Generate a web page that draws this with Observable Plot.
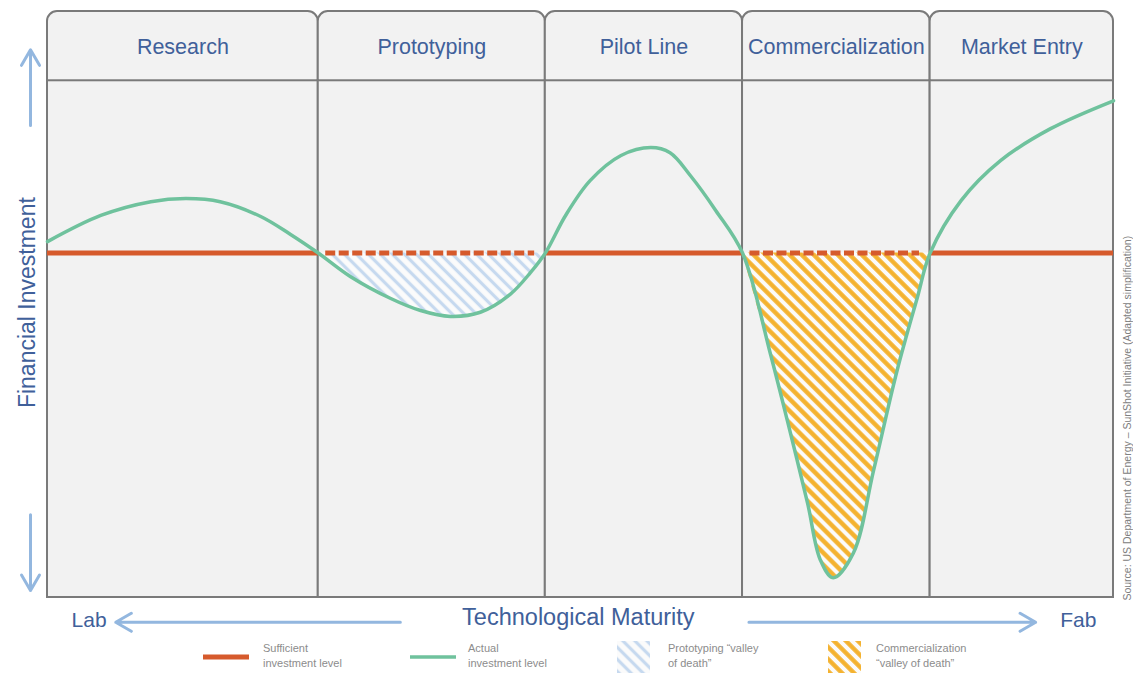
<!DOCTYPE html>
<html><head><meta charset="utf-8">
<script src="https://cdn.jsdelivr.net/npm/d3@7"></script>
<script src="https://cdn.jsdelivr.net/npm/@observablehq/plot@0.6"></script>
<style>
body{margin:0;background:#fff;font-family:"Liberation Sans",Arial,sans-serif;}
#wrap{position:relative;width:1133px;height:674px;overflow:hidden;}
#legend{position:absolute;left:0;top:638px;width:1133px;height:36px;}
.sw{position:absolute;}
.tx{position:absolute;font-size:11px;line-height:15px;color:#8c8c8c;white-space:nowrap;}
</style></head><body>
<div id="wrap"><div id="chart"></div><div id="legend"></div></div>
<script>
// ---- data ----
const stages = ["Research", "Prototyping", "Pilot Line", "Commercialization", "Market Entry"];
const stageBounds = [0, 25.4, 46.7, 65.2, 82.8, 100];
const valleyStages = ["Prototyping", "Commercialization"];
const sufficientLevel = 0;
const maturity = [0, 5.0, 9.7, 13.0, 16.2, 20.0, 22.8, 25.4, 28.4, 32.2, 35.0, 37.8, 40.6, 43.4, 45.3, 46.7,
  48.6, 50.9, 53.8, 56.6, 58.4, 60.3, 62.7, 65.2, 67.8, 69.4, 71.3, 72.5, 73.7, 75.6, 77.5, 79.7, 81.6, 82.8,
  85.7, 89.4, 94.1, 100];
const actual = [0.33, 1.09, 1.49, 1.58, 1.49, 1.06, 0.54, 0, -0.68, -1.32, -1.67, -1.84, -1.72, -1.20, -0.57, 0,
  1.09, 2.10, 2.83, 3.06, 2.91, 2.25, 1.23, 0, -2.91, -4.86, -7.26, -8.91, -9.43, -8.71, -6.30, -3.41, -1.29, 0,
  1.52, 2.68, 3.61, 4.42];
const yAxisLabel = "Financial Investment";
const xAxisLabel = "Technological Maturity";
const xAxisEnds = ["Lab", "Fab"];
const sourceNote = "Source: US Department of Energy \u2013 SunShot Initiative (Adapted simplification)";
const legendLabels = [["Sufficient", "investment level"], ["Actual", "investment level"],
  ["Prototyping \u201cvalley", "of death\u201d"], ["Commercialization", "\u201cvalley of death\u201d"]];

// ---- derived ----
const stageRows = stages.map((s, i) => ({stage: s, x1: stageBounds[i], x2: stageBounds[i + 1], valley: valleyStages.includes(s)}));
const curvePts = maturity.map((m, i) => ({m, v: actual[i]}));

const C = {red: "#d65a2c", green: "#6fc29d", border: "#7a7a7a", panel: "#f2f2f2", blueText: "#40609a",
  arrow: "#93b7df", hatchBlue: "#c6d9ef", hatchOrange: "#f4b22f"};

const headerTop = 7.04, headerBottom = 5.0, yMin = -10;
const labelRow = -10.66;

const marks = [
  Plot.rect(stageRows, {x1: "x1", x2: "x2", y1: d => headerBottom - 3, y2: d => headerTop - 0.03,
    fill: C.panel, stroke: C.border, strokeWidth: 2, rx: 10}),
  Plot.rect(stageRows, {x1: "x1", x2: "x2", y1: d => yMin, y2: d => headerBottom,
    fill: C.panel, stroke: C.border, strokeWidth: 2}),
];
stageRows.filter(d => d.valley).forEach(d => {
  const pts = curvePts.filter(p => p.m >= d.x1 && p.m <= d.x2);
  marks.push(Plot.areaY(pts, {x: "m", y1: () => sufficientLevel, y2: "v", curve: "catmull-rom",
    fill: d.stage === "Prototyping" ? "url(#hatchProto)" : "url(#hatchComm)"}));
});
marks.push(
  Plot.ruleY(stageRows.filter(d => !d.valley), {x1: "x1", x2: "x2", y: () => sufficientLevel, stroke: C.red, strokeWidth: 5}),
  Plot.ruleY(stageRows.filter(d => d.valley), {x1: d => d.x1 + 0.7, x2: d => d.x2 - 1.0, y: () => sufficientLevel,
    stroke: C.red, strokeWidth: 5, strokeDasharray: "10,3.5"}),
  Plot.line(curvePts, {x: "m", y: "v", curve: "catmull-rom", stroke: C.green, strokeWidth: 3.5}),
  Plot.text(stageRows, {x: d => (d.x1 + d.x2) / 2, y: () => (headerTop + headerBottom) / 2 - 0.03, text: "stage",
    fontSize: 21.5, fill: C.blueText}),
  // y-axis title and arrows
  Plot.text([yAxisLabel], {x: () => 0, y: () => -1.44, text: d => d, rotate: -90, dx: -20, fontSize: 23, fill: C.blueText}),
  Plot.arrow([{a: 3.7, b: 5.9}, {a: -7.6, b: -9.8}], {x1: () => 0, x2: () => 0, y1: "a", y2: "b", dx: -17,
    stroke: C.arrow, strokeWidth: 3, headLength: 9}),
  // x-axis title and arrows
  Plot.text([xAxisLabel], {x: () => 49.8, y: () => -10.58, text: d => d, fontSize: 23.5, fill: C.blueText}),
  Plot.text(xAxisEnds, {x: (d, i) => i === 0 ? 3.9 : 96.7, y: () => labelRow, text: d => d, fontSize: 21, fill: C.blueText}),
  Plot.arrow([{a: 33.1, b: 6.4}, {a: 65.8, b: 92.7}], {x1: "a", x2: "b", y1: () => labelRow - 0.06, y2: () => labelRow - 0.06,
    stroke: C.arrow, strokeWidth: 3, headLength: 9}),
  Plot.text([sourceNote], {x: () => 101.3, y: () => -10.09, text: d => d, rotate: -90, textAnchor: "start",
    fontSize: 10.5, fill: "#808080"})
);

const svg = Plot.plot({
  width: 1133, height: 638,
  marginLeft: 47, marginRight: 20, marginTop: 10, marginBottom: 41,
  style: {fontFamily: '"Liberation Sans", Arial, sans-serif', background: "transparent", overflow: "visible"},
  x: {domain: [0, 100], axis: null},
  y: {domain: [yMin, headerTop], axis: null},
  marks
});

function addHatch(defs, id, color, width, gap) {
  const p = defs.append("pattern").attr("id", id).attr("patternUnits", "userSpaceOnUse")
    .attr("width", gap).attr("height", gap).attr("patternTransform", "rotate(-45)");
  p.append("rect").attr("width", gap).attr("height", gap).attr("fill", "#fbfbfb");
  p.append("line").attr("x1", gap / 2).attr("y1", -1).attr("x2", gap / 2).attr("y2", gap + 1)
    .attr("stroke", color).attr("stroke-width", width);
}
const defs = d3.select(svg).insert("defs", ":first-child");
addHatch(defs, "hatchProto", C.hatchBlue, 3.2, 8.5);
addHatch(defs, "hatchComm", C.hatchOrange, 4.4, 8.5);
document.getElementById("chart").appendChild(svg);

// ---- legend ----
const legend = d3.select("#legend");
const swatches = [
  {left: 203, kind: "line", color: C.red, w: 5},
  {left: 410, kind: "line", color: C.green, w: 3.5},
  {left: 617, kind: "hatch", fill: "url(#hatchProto)"},
  {left: 828, kind: "hatch", fill: "url(#hatchComm)"}
];
const textLeft = [263, 468, 668, 876];
swatches.forEach((s, i) => {
  if (s.kind === "line") {
    const g = legend.append("svg").attr("class", "sw").style("left", s.left + "px").style("top", "15px")
      .attr("width", 46).attr("height", 8);
    g.append("line").attr("x1", 0).attr("x2", 46).attr("y1", 4).attr("y2", 4).attr("stroke", s.color).attr("stroke-width", s.w);
  } else {
    const g = legend.append("svg").attr("class", "sw").style("left", s.left + "px").style("top", "3px")
      .attr("width", 33).attr("height", 32);
    g.append("rect").attr("width", 33).attr("height", 32).attr("fill", s.fill);
  }
  legend.append("div").attr("class", "tx").style("left", textLeft[i] + "px").style("top", "3px")
    .html(legendLabels[i].join("<br>"));
});
</script>
</body></html>
